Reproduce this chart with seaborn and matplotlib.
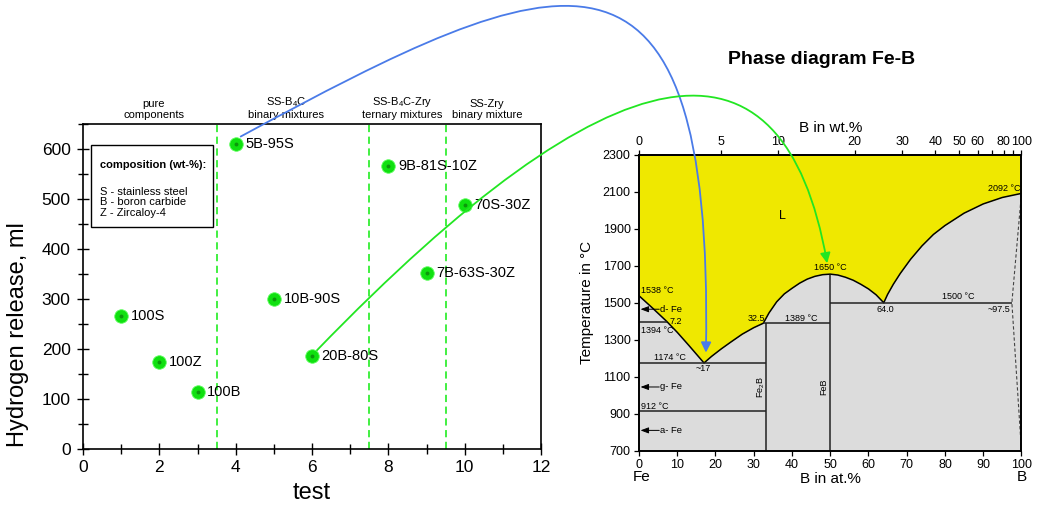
import numpy as np
import pandas as pd
import matplotlib
matplotlib.use('Agg')
import matplotlib.pyplot as plt
import seaborn as sns
from matplotlib.path import Path
from matplotlib.patches import FancyArrowPatch, Rectangle
from matplotlib.ticker import MultipleLocator

# hydrogen release per test
tests = [1, 2, 3, 4, 5, 6, 8, 9, 10]
h2_release = [267, 175, 114, 611, 300, 186, 566, 352, 489]
sample_names = ['100S', '100Z', '100B', '5B-95S', '10B-90S', '20B-80S',
                '9B-81S-10Z', '7B-63S-30Z', '70S-30Z']

# test groups
group_bounds = [3.5, 7.5, 9.5]
group_centers = [1.86, 5.33, 8.36, 10.58]
group_labels = ['pure\ncomponents',
                'SS-B$_\\mathregular{4}$C\nbinary mixtures',
                'SS-B$_\\mathregular{4}$C-Zry\nternary mixtures',
                'SS-Zry\nbinary mixture']

# Fe-B liquidus (at.% B, deg C)
liq_at = [0, 3.5, 7.2, 10, 13, 15, 17, 19, 21.5, 24, 27, 30, 32.5,
          34, 36, 38, 40, 42, 44, 46, 48, 50, 52, 54, 56, 58, 60, 62, 64,
          65, 66.5, 68.3, 71, 74, 77, 80, 85, 90, 95, 100]
liq_T = [1538, 1472, 1400, 1340, 1270, 1222, 1174, 1210, 1250, 1287, 1330, 1365, 1389,
         1445, 1505, 1548, 1578, 1606, 1628, 1643, 1652, 1655, 1650, 1638, 1622, 1600, 1575, 1543, 1500,
         1545, 1600, 1658, 1735, 1808, 1870, 1918, 1985, 2035, 2070, 2092]

# invariant lines
iso_T = [1394, 1174, 912, 1389, 1500]
iso_from = [0, 0, 0, 32.5, 50]
iso_to = [7.2, 33.3, 33.3, 50, 97.5]
compound_at = [33.3, 50]
compound_top = [1389, 1650]
dash_at = [100, 97.5, 100]
dash_T = [2092, 1500, 700]

# phase labels with arrows (T)
phase_names = ['d- Fe', 'g- Fe', 'a- Fe']
phase_T = [1465, 1044, 809]

# point annotations (text, at.%, T, ha)
notes = [('1538 °C', 0.4, 1565, 'left'), ('7.2', 9.6, 1401, 'center'),
         ('1394 °C', 0.4, 1351, 'left'), ('1174 °C', 8.1, 1201, 'center'),
         ('~17', 16.9, 1143, 'center'), ('32.5', 30.8, 1414, 'center'),
         ('1389 °C', 42.5, 1414, 'center'), ('912 °C', 0.6, 939, 'left'),
         ('1650 °C', 50.1, 1689, 'center'), ('64.0', 64.4, 1465, 'center'),
         ('1500 °C', 83.5, 1532, 'center'), ('~97.5', 94.2, 1465, 'center'),
         ('2092 °C', 95.4, 2116, 'center')]

# arrow targets in the phase diagram
blue_target = (17.5, 1230)
green_target = (49.2, 1714)

temp_ticks = [700, 900, 1100, 1300, 1500, 1700, 1900, 2100, 2300]
wt_ticks = [0, 5, 10, 20, 30, 40, 50, 60, 80, 100]
wt_minor = [70, 90]

M_B, M_FE = 10.81, 55.845


def at_to_wt(a):
    a = np.asarray(a, dtype=float)
    return 100 * a * M_B / (a * M_B + (100 - a) * M_FE)


def wt_to_at(w):
    w = np.asarray(w, dtype=float)
    return 100 * (w / M_B) / (w / M_B + (100 - w) / M_FE)


sns.set_theme(style='ticks')
plt.rcParams['font.family'] = ['Liberation Sans', 'DejaVu Sans']
plt.rcParams['text.color'] = 'black'
plt.rcParams['axes.edgecolor'] = 'black'
plt.rcParams['xtick.color'] = 'black'
plt.rcParams['ytick.color'] = 'black'
plt.rcParams['axes.labelcolor'] = 'black'

fig = plt.figure(figsize=(10.39, 5.07), dpi=100)
ax1 = fig.add_axes([0.0799, 0.1138, 0.4408, 0.6416])
ax2 = fig.add_axes([0.615, 0.1114, 0.3681, 0.5829])

# ---------- left: hydrogen release ----------
df = pd.DataFrame({'test': tests, 'h2': h2_release, 'name': sample_names})
sns.scatterplot(data=df, x='test', y='h2', ax=ax1, s=95, color='#10e010',
                edgecolor='#60ff60', linewidth=0.6, zorder=3)
ax1.scatter(df['test'], df['h2'], s=8, color='#0a7a0a', alpha=0.7, zorder=4, linewidths=0)
for _, row in df.iterrows():
    ax1.annotate(row['name'], (row['test'], row['h2']), xytext=(7, 0),
                 textcoords='offset points', ha='left', va='center', fontsize=10.5)

for b in group_bounds:
    ax1.axvline(b, color='#33ee33', lw=1.3, ls=(0, (4, 2.5)), zorder=1)
for c, lab in zip(group_centers, group_labels):
    ax1.text(c, 1.012, lab, transform=ax1.get_xaxis_transform(), ha='center', va='bottom',
             fontsize=8, linespacing=1.15)

ax1.set_xlim(0, 12)
ax1.set_ylim(0, 650)
ax1.xaxis.set_major_locator(MultipleLocator(2))
ax1.xaxis.set_minor_locator(MultipleLocator(1))
ax1.yaxis.set_major_locator(MultipleLocator(100))
ax1.yaxis.set_minor_locator(MultipleLocator(50))
ax1.tick_params(which='both', direction='inout', labelsize=12.5, width=1, top=False, right=False)
ax1.tick_params(which='major', length=9, pad=4.5)
ax1.tick_params(which='minor', length=7)
ax1.tick_params(axis='x', pad=3)
for s in ax1.spines.values():
    s.set_linewidth(1.2)
ax1.set_xlabel('test', fontsize=17)
ax1.set_ylabel('Hydrogen release, ml', fontsize=17)
ax1.yaxis.set_label_coords(-0.119, 0.354)
ax1.xaxis.set_label_coords(0.5, -0.1)

# composition box
ax1.add_patch(Rectangle((0.0175, 0.683), 0.2655, 0.252, transform=ax1.transAxes,
                        fill=False, lw=1, ec='black', zorder=5))
ax1.text(0.038, 0.874, 'composition (wt-%):', transform=ax1.transAxes, fontsize=8,
         fontweight='bold', va='center')
for yy, t in zip([0.792, 0.761, 0.727], ['S - stainless steel', 'B - boron carbide', 'Z - Zircaloy-4']):
    ax1.text(0.037, yy, t, transform=ax1.transAxes, fontsize=8, va='center')

# ---------- right: phase diagram ----------
ax2.fill_between(liq_at, liq_T, 2300, color='#efe800', lw=0, zorder=0)
ax2.fill_between(liq_at, 700, liq_T, color='#dcdcdc', lw=0, zorder=0)
sns.lineplot(x=liq_at, y=liq_T, ax=ax2, color='black', lw=1.1, sort=False, estimator=None)
ax2.hlines(iso_T, iso_from, iso_to, color='#222222', lw=1.1)
ax2.vlines(compound_at, 700, compound_top, color='#222222', lw=1.1)
ax2.plot(dash_at, dash_T, color='#444444', lw=0.8, ls=(0, (3, 2)))

for name, T in zip(phase_names, phase_T):
    ax2.annotate('', xy=(0.4, T), xytext=(5.3, T),
                 arrowprops=dict(arrowstyle='-|>,head_length=0.4,head_width=0.15',
                                 color='black', lw=0.7, shrinkA=0, shrinkB=0))
    ax2.text(5.6, T, name, fontsize=6.8, va='center', ha='left')
for t, x, y, ha in notes:
    ax2.text(x, y, t, fontsize=6.5, ha=ha, va='center')
ax2.text(31.9, 1044, 'Fe$_\\mathregular{2}$B', rotation=90, fontsize=6.5, ha='center', va='center')
ax2.text(48.3, 1044, 'FeB', rotation=90, fontsize=6.5, ha='center', va='center')
ax2.text(37.4, 1969, 'L', fontsize=9, ha='center', va='center')

ax2.set_xlim(0, 100)
ax2.set_ylim(700, 2300)
ax2.xaxis.set_major_locator(MultipleLocator(10))
ax2.set_yticks(temp_ticks)
ax2.tick_params(direction='out', length=3.5, width=0.9, labelsize=9, pad=2.5, top=False, right=False)
for s in ax2.spines.values():
    s.set_linewidth(1.4)
ax2.set_xlabel('B in at.%', fontsize=11, labelpad=1)
ax2.set_ylabel('Temperature in °C', fontsize=11, labelpad=6)
ax2.text(0.006, -0.0887, 'Fe', transform=ax2.transAxes, fontsize=11, ha='center', va='center')
ax2.text(1.0, -0.0887, 'B', transform=ax2.transAxes, fontsize=11, ha='center', va='center')

sec = ax2.secondary_xaxis('top', functions=(at_to_wt, wt_to_at))
sec.set_xticks(wt_ticks)
sec.set_xticks(wt_minor, minor=True)
sec.tick_params(which='both', direction='out', length=3.5, width=0.9, labelsize=9, pad=1.5)
sec.set_xlabel('B in wt.%', fontsize=11, labelpad=3)

fig.text(821.7 / 1039, 1 - 60 / 507, 'Phase diagram Fe-B', fontsize=14, fontweight='bold',
         ha='center', va='center')

# ---------- connecting arrows ----------
to_fig = fig.transFigure.inverted()


def curved_arrow(start, end, c1, c2, color):
    p0 = np.asarray(start)
    p3 = np.asarray(end)
    verts = to_fig.transform(np.array([p0, p0 + c1, p3 + c2, p3]))
    path = Path(verts, [Path.MOVETO, Path.CURVE4, Path.CURVE4, Path.CURVE4])
    arr = FancyArrowPatch(path=path, arrowstyle='-|>,head_length=0.6,head_width=0.3',
                          mutation_scale=10, color=color, lw=1.3, transform=fig.transFigure)
    fig.add_artist(arr)


b_start = ax1.transData.transform((tests[3], h2_release[3])) + np.array([5, 7])
b_end = ax2.transData.transform(blue_target)
curved_arrow(b_start, b_end, np.array([318, 172]), np.array([8, 455]), '#4a7be8')

g_start = ax1.transData.transform((tests[5], h2_release[5])) + np.array([5, 6])
g_end = ax2.transData.transform(green_target)
curved_arrow(g_start, g_end, np.array([297, 307]), np.array([-44, 249]), '#22e622')

fig.savefig('out.png', dpi=100)
